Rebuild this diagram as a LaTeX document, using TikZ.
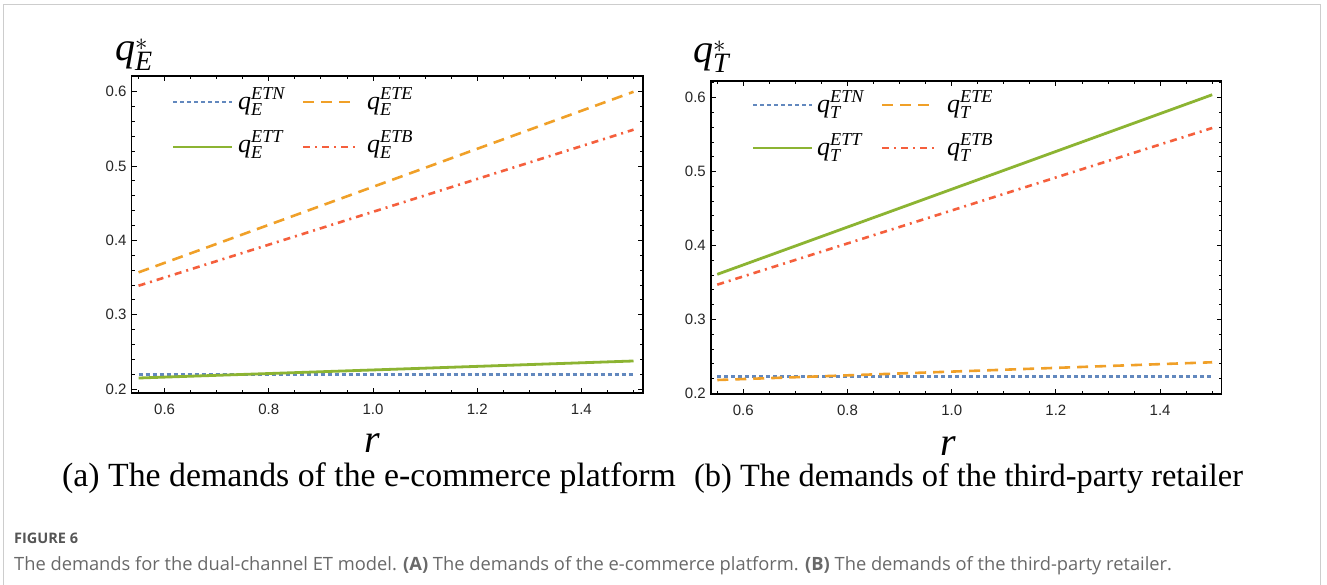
\documentclass[tikz,border=0pt]{standalone}
\usepackage{fontspec}
\setmainfont{Liberation Serif}
\newfontfamily\tickfont{Liberation Sans}
\newfontfamily\capfont{Open Sans}
\definecolor{mblue}{RGB}{98,136,190}
\definecolor{morange}{RGB}{240,160,40}
\definecolor{mgreen}{RGB}{140,180,50}
\definecolor{mred}{RGB}{245,95,60}
\definecolor{capgray}{RGB}{105,105,105}
\definecolor{figgray}{RGB}{85,85,85}
\definecolor{bordergray}{RGB}{205,205,205}
\begin{document}
\begin{tikzpicture}[x=1pt,y=-1pt,
  frame/.style={line width=1.3pt, black},
  tk/.style={line width=0.9pt, black},
  tl/.style={font=\tickfont\fontsize{15}{15}\selectfont, text=black!85, inner sep=0pt},
  lineN/.style={mblue, line width=2.6pt, dash pattern=on 4pt off 3pt},
  lineE/.style={morange, line width=2.6pt, dash pattern=on 11pt off 7pt},
  lineT/.style={mgreen, line width=2.8pt},
  lineB/.style={mred, line width=2.6pt, dash pattern=on 7pt off 5pt on 2pt off 5pt},
  leg/.style={font=\fontsize{26}{28}\selectfont, inner sep=0pt},
  axlab/.style={font=\fontsize{40}{42}\selectfont, inner sep=0pt},
  subcap/.style={inner sep=0pt},
  figcapstyle/.style={text=capgray, inner sep=0pt}]
\useasboundingbox (0,0) rectangle (1327,584);
\fill[white] (0,0) rectangle (1327,584);
\draw[bordergray, line width=1.3pt] (3.5,590) -- (3.5,4.5) -- (1320.5,4.5) -- (1320.5,590);

% ---------- left plot ----------
\begin{scope}[x=521pt, y=743pt, shift={(-148pt,-537.6pt)}]
  \def\xmin{0.537}\def\xmax{1.518}\def\ymin{0.1946}\def\ymax{0.6213}
  \draw[lineE] (0.55,0.357) -- (1.5,0.600);
  \draw[lineB] (0.55,0.339) -- (1.5,0.549);
  \draw[lineN] (0.55,0.2195) -- (1.5,0.2195);
  \draw[lineT] (0.55,0.2148) -- (1.5,0.2377);
  \foreach \t in {0.55,0.6,...,1.51} {
    \draw[tk] (\t,\ymin) -- ++(0,3pt);
    \draw[tk] (\t,\ymax) -- ++(0,-3pt);
  }
  \foreach \t/\n in {0.6/a,0.8/b,1.0/c,1.2/d,1.4/e} {
    \draw[tk] (\t,\ymin) -- ++(0,5pt);
    \draw[tk] (\t,\ymax) -- ++(0,-5pt);
    \node[tl, anchor=north] (lx\n) at (\t,\ymin) [yshift=-10.5pt] {\t};
  }
  \foreach \t in {0.2,0.22,...,0.621} {
    \draw[tk] (\xmin,\t) -- ++(3pt,0);
    \draw[tk] (\xmax,\t) -- ++(-3pt,0);
  }
  \foreach \t/\n in {0.2/a,0.3/b,0.4/c,0.5/d,0.6/e} {
    \draw[tk] (\xmin,\t) -- ++(5pt,0);
    \draw[tk] (\xmax,\t) -- ++(-5pt,0);
    \node[tl, anchor=east] (ly\n) at (\xmin,\t) [xshift=-5pt] {\t};
  }
  \draw[frame] (\xmin,\ymin) rectangle (\xmax,\ymax);
\end{scope}

% ---------- right plot ----------
\begin{scope}[x=521pt, y=739pt, shift={(430.7pt,-541.1pt)}]
  \def\xmin{0.538}\def\xmax{1.518}\def\ymin{0.199}\def\ymax{0.6226}
  \draw[lineT] (0.55,0.361) -- (1.5,0.604);
  \draw[lineB] (0.55,0.347) -- (1.5,0.559);
  \draw[lineN] (0.55,0.223) -- (1.5,0.223);
  \draw[lineE] (0.55,0.218) -- (1.5,0.242);
  \foreach \t in {0.55,0.6,...,1.51} {
    \draw[tk] (\t,\ymin) -- ++(0,3pt);
    \draw[tk] (\t,\ymax) -- ++(0,-3pt);
  }
  \foreach \t/\n in {0.6/a,0.8/b,1.0/c,1.2/d,1.4/e} {
    \draw[tk] (\t,\ymin) -- ++(0,5pt);
    \draw[tk] (\t,\ymax) -- ++(0,-5pt);
    \node[tl, anchor=north] (rx\n) at (\t,\ymin) [yshift=-10.5pt] {\t};
  }
  \foreach \t in {0.2,0.22,...,0.621} {
    \draw[tk] (\xmin,\t) -- ++(3pt,0);
    \draw[tk] (\xmax,\t) -- ++(-3pt,0);
  }
  \foreach \t/\n in {0.2/a,0.3/b,0.4/c,0.5/d,0.6/e} {
    \draw[tk] (\xmin,\t) -- ++(5pt,0);
    \draw[tk] (\xmax,\t) -- ++(-5pt,0);
    \node[tl, anchor=east] (ry\n) at (\xmin,\t) [xshift=-5pt] {\t};
  }
  \draw[frame] (\xmin,\ymin) rectangle (\xmax,\ymax);
\end{scope}

% ---------- legends ----------
\draw[lineN] (173,102) -- (232,102);
\node[leg, anchor=base west] (lgl1) at (238,109) {$\mathit{q}^{\mathit{ETN}}_{\mathit{E}}$};
\draw[lineE] (303,102) -- (355,102);
\node[leg, anchor=base west] (lgl2) at (367,109) {$\mathit{q}^{\mathit{ETE}}_{\mathit{E}}$};
\draw[lineT] (173,147) -- (232,147);
\node[leg, anchor=base west] (lgl3) at (238,152) {$\mathit{q}^{\mathit{ETT}}_{\mathit{E}}$};
\draw[lineB] (303,147) -- (355,147);
\node[leg, anchor=base west] (lgl4) at (367,152) {$\mathit{q}^{\mathit{ETB}}_{\mathit{E}}$};

\draw[lineN] (753,105) -- (812,105);
\node[leg, anchor=base west] (lgr1) at (817,112) {$\mathit{q}^{\mathit{ETN}}_{\mathit{T}}$};
\draw[lineE] (882,105) -- (935,105);
\node[leg, anchor=base west] (lgr2) at (947,112) {$\mathit{q}^{\mathit{ETE}}_{\mathit{T}}$};
\draw[lineT] (753,148) -- (812,148);
\node[leg, anchor=base west] (lgr3) at (817,155) {$\mathit{q}^{\mathit{ETT}}_{\mathit{T}}$};
\draw[lineB] (882,148) -- (935,148);
\node[leg, anchor=base west] (lgr4) at (947,155) {$\mathit{q}^{\mathit{ETB}}_{\mathit{T}}$};

% ---------- axis labels ----------
\node[axlab, anchor=base west] (ylabL) at (115,60) {$\mathit{q}^{*}_{\mathit{E}}$};
\node[axlab, anchor=base west] (ylabR) at (693,62) {$\mathit{q}^{*}_{\mathit{T}}$};
\node[axlab, anchor=base] (xlabL) at (372,452) {\textit{r}};
\node[axlab, anchor=base] (xlabR) at (948,455) {\textit{r}};

% ---------- sub captions ----------
\node[subcap, anchor=base west, font=\fontsize{33.8}{36}\selectfont] (capa) at (62,486) {(a) The demands of the e-commerce platform};
\node[subcap, anchor=base west, font=\fontsize{32.4}{35}\selectfont] (capb) at (694,486) {(b) The demands of the third-party retailer};

% ---------- figure caption ----------
\node[figcapstyle, anchor=base west, font=\capfont\bfseries\fontsize{14.5}{15}\selectfont, text=figgray] (fig) at (14,543) {FIGURE 6};
\node[figcapstyle, anchor=base west, font=\capfont\fontsize{18.3}{19}\selectfont] (figcap) at (14,570) {The demands for the dual-channel ET model. \textbf{(A)} The demands of the e-commerce platform. \textbf{(B)} The demands of the third-party retailer.};
\end{tikzpicture}
\end{document}
